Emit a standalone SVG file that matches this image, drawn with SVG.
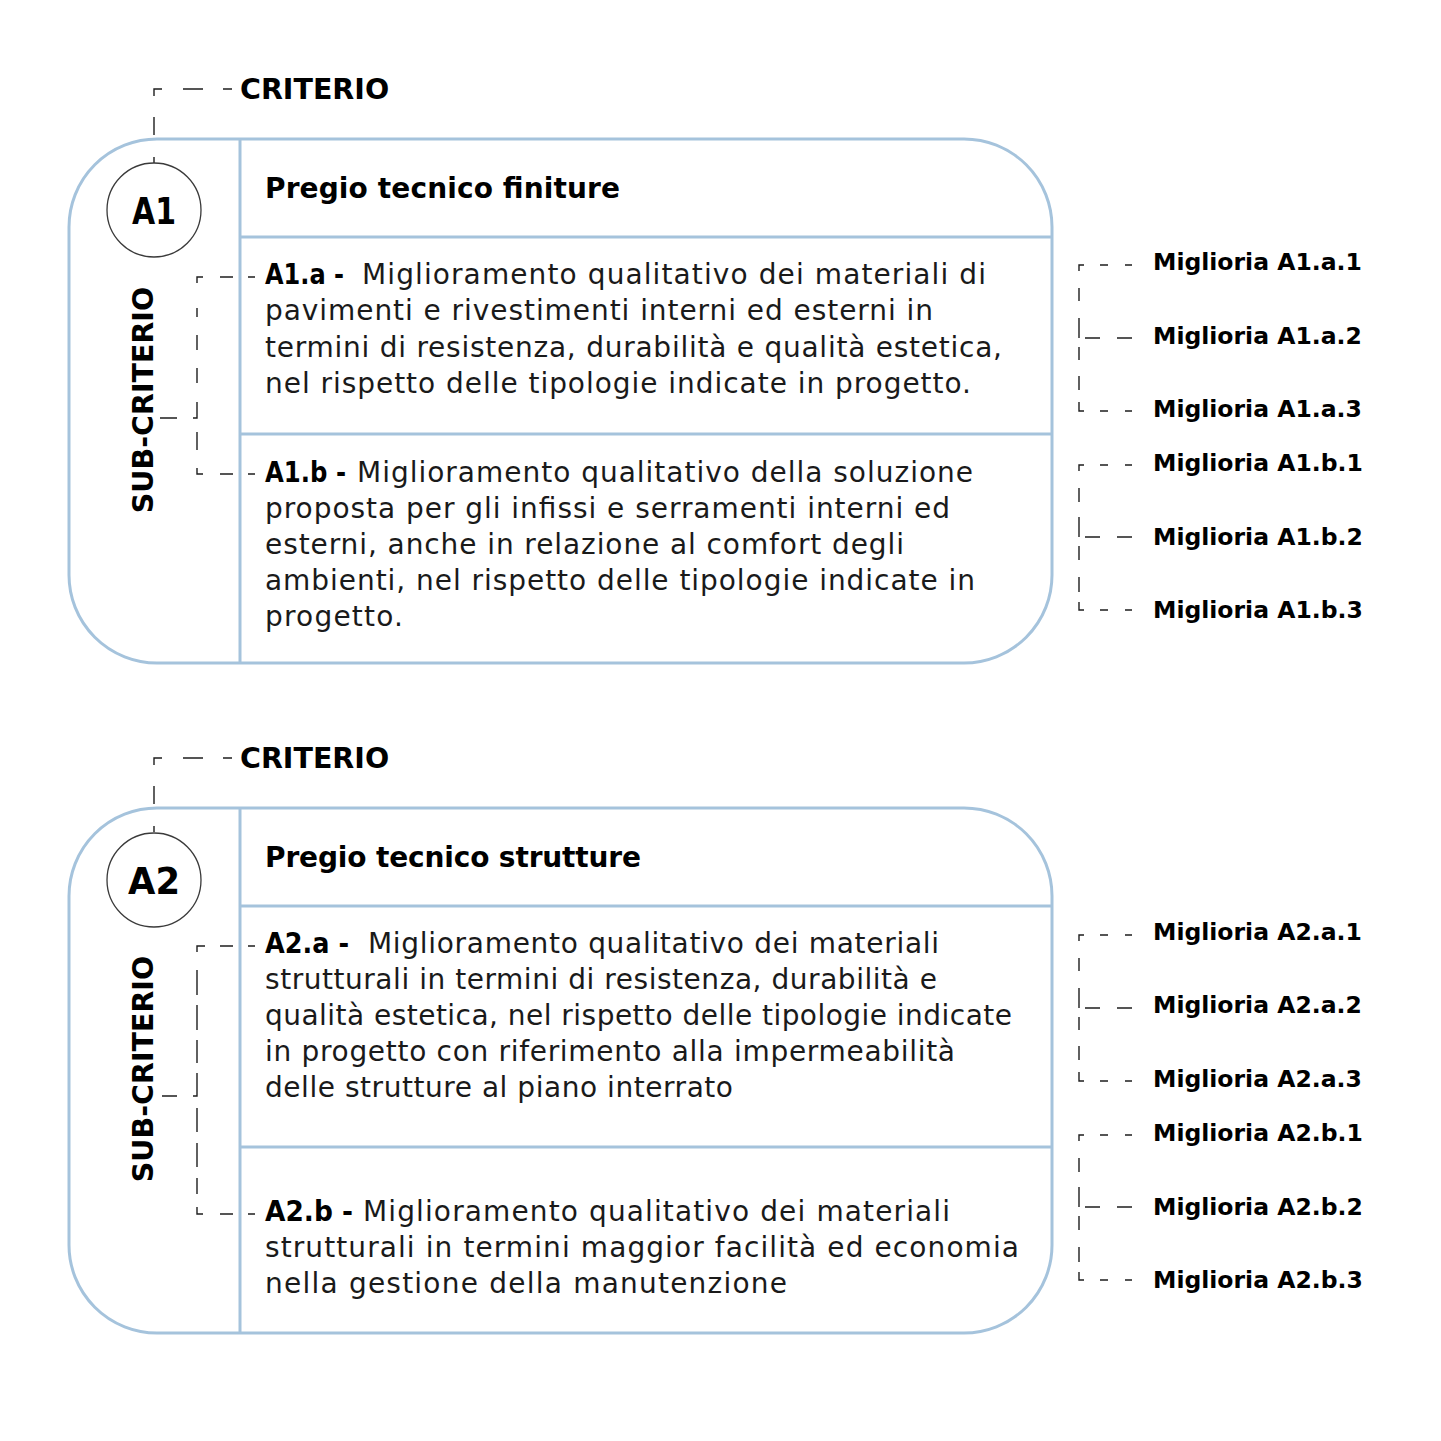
<svg xmlns="http://www.w3.org/2000/svg" width="1441" height="1441" viewBox="0 0 1441 1441">
<style>
.box{fill:none;stroke:#a5c3dc;stroke-width:3}
.div{stroke:#a5c3dc;stroke-width:3;fill:none}
.circ{fill:#fff;stroke:#3a3a3a;stroke-width:1.3}
.conn{fill:none;stroke:#1e1e1e;stroke-width:1.4}
.b{font-family:"DejaVu Sans",Verdana,sans-serif;font-weight:bold;fill:#000}
.r{font-family:"DejaVu Sans",Verdana,sans-serif;font-weight:normal;fill:#1a1a1a;font-size:28px}
.crit{font-size:28.5px}
.title{font-size:28px}
.code{font-size:38px}
.pre{font-size:28px}
.mig{font-size:23.5px}
</style>
<rect width="1441" height="1441" fill="#fff"/>

<g id="connectors">
  <!-- CRITERIO A1 -->
  <path class="conn" d="M223,89 H232 M183,89 H203 M162,89 H154 V96 M154,117 V135 M154,157 V163"/>
  <!-- SUB-CRITERIO A1 bracket -->
  <path class="conn" d="M203,277 H197 V283 M220,277 H233 M248,277 H255 M197,308 V317 M197,335 V350 M197,368 V383 M197,402 V418 H193 M160,418 H177 M197,432 V450 M197,468 V474 H203 M220,474 H233 M248,474 H255"/>
  <!-- Migliorie A1.a -->
  <path class="conn" d="M1084,265 H1079 V271 M1100,265 H1108 M1125,265 H1132 M1079,288 V301 M1079,318 V338 M1085,338 H1100 M1117,338 H1132 M1079,347 V360 M1079,376 V390 M1079,402 V411 H1084 M1100,411 H1108 M1125,411 H1132"/>
  <!-- Migliorie A1.b -->
  <path class="conn" d="M1084,465 H1079 V471 M1100,465 H1108 M1125,465 H1132 M1079,488 V502 M1079,517 V537 M1085,537 H1100 M1117,537 H1132 M1079,546 V560 M1079,577 V592 M1079,602 V610 H1084 M1100,610 H1108 M1125,610 H1132"/>

  <!-- CRITERIO A2 -->
  <path class="conn" d="M223,758 H232 M183,758 H203 M162,758 H154 V765 M154,786 V804 M154,826 V832"/>
  <!-- SUB-CRITERIO A2 bracket -->
  <path class="conn" d="M205,946 H197 V952 M220,946 H233 M248,946 H255 M197,970 V995 M197,1005 V1030 M197,1040 V1063 M197,1073 V1096 H193 M162,1096 H177 M197,1108 V1132 M197,1143 V1167 M197,1178 V1194 M197,1207 V1214 H203 M220,1214 H233 M248,1214 H255"/>
  <!-- Migliorie A2.a -->
  <path class="conn" d="M1084,935 H1079 V941 M1100,935 H1108 M1125,935 H1132 M1079,958 V971 M1079,988 V1008 M1085,1008 H1100 M1117,1008 H1132 M1079,1017 V1030 M1079,1046 V1060 M1079,1072 V1081 H1084 M1100,1081 H1108 M1125,1081 H1132"/>
  <!-- Migliorie A2.b -->
  <path class="conn" d="M1084,1135 H1079 V1141 M1100,1135 H1108 M1125,1135 H1132 M1079,1158 V1172 M1079,1187 V1207 M1085,1207 H1100 M1117,1207 H1132 M1079,1216 V1230 M1079,1247 V1262 M1079,1272 V1280 H1084 M1100,1280 H1108 M1125,1280 H1132"/>
</g>

<g id="criterio-A1">
  <text class="b crit" x="240" y="99">CRITERIO</text>
</g>

<g id="box-A1">
  <rect class="box" x="69" y="139" width="983" height="524" rx="88" ry="88"/>
  <line class="div" x1="240" y1="139" x2="240" y2="663"/>
  <line class="div" x1="240" y1="237" x2="1052" y2="237"/>
  <line class="div" x1="240" y1="434" x2="1052" y2="434"/>
</g>

<g id="node-A1">
  <circle class="circ" cx="154" cy="210" r="47"/>
  <text class="b code" x="154" y="224" text-anchor="middle" textLength="44" lengthAdjust="spacingAndGlyphs">A1</text>
</g>

<g id="subcriterio-A1">
  <text class="b crit" x="153" y="400" text-anchor="middle" transform="rotate(-90 153 400)">SUB-CRITERIO</text>
</g>

<g id="title-A1">
  <text class="b title" x="265" y="198" textLength="355" lengthAdjust="spacing">Pregio tecnico finiture</text>
</g>

<g id="A1a">
  <text class="b pre" x="265" y="284" textLength="79" lengthAdjust="spacingAndGlyphs">A1.a -</text>
  <text class="r" x="362" y="284" textLength="624" lengthAdjust="spacing">Miglioramento qualitativo dei materiali di</text>
  <text class="r" x="265" y="320" textLength="668" lengthAdjust="spacing">pavimenti e rivestimenti interni ed esterni in</text>
  <text class="r" x="265" y="357" textLength="737" lengthAdjust="spacing">termini di resistenza, durabilità e qualità estetica,</text>
  <text class="r" x="265" y="393" textLength="706" lengthAdjust="spacing">nel rispetto delle tipologie indicate in progetto.</text>
</g>

<g id="A1b">
  <text class="b pre" x="265" y="482" textLength="81" lengthAdjust="spacingAndGlyphs">A1.b -</text>
  <text class="r" x="357" y="482" textLength="616" lengthAdjust="spacing">Miglioramento qualitativo della soluzione</text>
  <text class="r" x="265" y="518" textLength="685" lengthAdjust="spacing">proposta per gli infissi e serramenti interni ed</text>
  <text class="r" x="265" y="554" textLength="639" lengthAdjust="spacing">esterni, anche in relazione al comfort degli</text>
  <text class="r" x="265" y="590" textLength="710" lengthAdjust="spacing">ambienti, nel rispetto delle tipologie indicate in</text>
  <text class="r" x="265" y="626" textLength="138" lengthAdjust="spacing">progetto.</text>
</g>

<g id="migliorie-A1">
  <text class="b mig" x="1153" y="270">Miglioria A1.a.1</text>
  <text class="b mig" x="1153" y="344">Miglioria A1.a.2</text>
  <text class="b mig" x="1153" y="417">Miglioria A1.a.3</text>
  <text class="b mig" x="1153" y="471">Miglioria A1.b.1</text>
  <text class="b mig" x="1153" y="545">Miglioria A1.b.2</text>
  <text class="b mig" x="1153" y="618">Miglioria A1.b.3</text>
</g>

<g id="criterio-A2">
  <text class="b crit" x="240" y="768">CRITERIO</text>
</g>

<g id="box-A2">
  <rect class="box" x="69" y="808" width="983" height="525" rx="88" ry="88"/>
  <line class="div" x1="240" y1="808" x2="240" y2="1333"/>
  <line class="div" x1="240" y1="906" x2="1052" y2="906"/>
  <line class="div" x1="240" y1="1147" x2="1052" y2="1147"/>
</g>

<g id="node-A2">
  <circle class="circ" cx="154" cy="880" r="47"/>
  <text class="b code" x="154" y="894" text-anchor="middle" textLength="52" lengthAdjust="spacingAndGlyphs">A2</text>
</g>

<g id="subcriterio-A2">
  <text class="b crit" x="153" y="1069" text-anchor="middle" transform="rotate(-90 153 1069)">SUB-CRITERIO</text>
</g>

<g id="title-A2">
  <text class="b title" x="265" y="867" textLength="376" lengthAdjust="spacing">Pregio tecnico strutture</text>
</g>

<g id="A2a">
  <text class="b pre" x="265" y="953" textLength="84" lengthAdjust="spacingAndGlyphs">A2.a -</text>
  <text class="r" x="368" y="953" textLength="571" lengthAdjust="spacing">Miglioramento qualitativo dei materiali</text>
  <text class="r" x="265" y="989" textLength="672" lengthAdjust="spacing">strutturali in termini di resistenza, durabilità e</text>
  <text class="r" x="265" y="1025" textLength="747" lengthAdjust="spacing">qualità estetica, nel rispetto delle tipologie indicate</text>
  <text class="r" x="265" y="1061" textLength="690" lengthAdjust="spacing">in progetto con riferimento alla impermeabilità</text>
  <text class="r" x="265" y="1097" textLength="468" lengthAdjust="spacing">delle strutture al piano interrato</text>
</g>

<g id="A2b">
  <text class="b pre" x="265" y="1221" textLength="88" lengthAdjust="spacingAndGlyphs">A2.b -</text>
  <text class="r" x="363" y="1221" textLength="587" lengthAdjust="spacing">Miglioramento qualitativo dei materiali</text>
  <text class="r" x="265" y="1257" textLength="754" lengthAdjust="spacing">strutturali in termini maggior facilità ed economia</text>
  <text class="r" x="265" y="1293" textLength="522" lengthAdjust="spacing">nella gestione della manutenzione</text>
</g>

<g id="migliorie-A2">
  <text class="b mig" x="1153" y="940">Miglioria A2.a.1</text>
  <text class="b mig" x="1153" y="1013">Miglioria A2.a.2</text>
  <text class="b mig" x="1153" y="1087">Miglioria A2.a.3</text>
  <text class="b mig" x="1153" y="1141">Miglioria A2.b.1</text>
  <text class="b mig" x="1153" y="1215">Miglioria A2.b.2</text>
  <text class="b mig" x="1153" y="1288">Miglioria A2.b.3</text>
</g>
</svg>
